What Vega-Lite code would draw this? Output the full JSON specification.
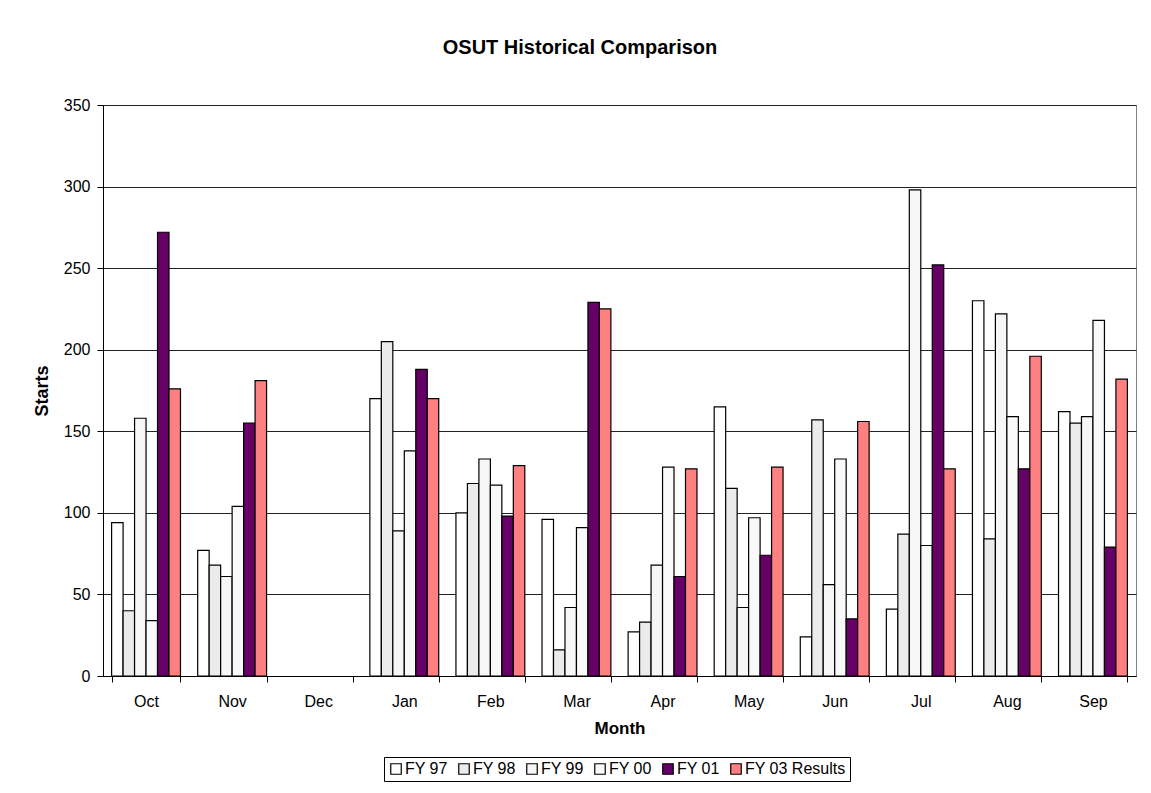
{
  "$schema": "https://vega.github.io/schema/vega-lite/v6.json",
  "width": 1033,
  "height": 571,
  "autosize": {"type": "none"},
  "padding": {"left": 103, "top": 105, "right": 15, "bottom": 117},
  "background": "white",
  "title": {
    "text": "OSUT Historical Comparison",
    "font": "Liberation Sans",
    "fontSize": 20,
    "fontWeight": "bold",
    "color": "black",
    "anchor": "middle",
    "baseline": "alphabetic",
    "dx": -39.5,
    "offset": 23
  },
  "data": {
    "values": [
      {"month": "Oct", "series": "FY 97", "value": 94},
      {"month": "Oct", "series": "FY 98", "value": 40},
      {"month": "Oct", "series": "FY 99", "value": 158},
      {"month": "Oct", "series": "FY 00", "value": 34},
      {"month": "Oct", "series": "FY 01", "value": 272},
      {"month": "Oct", "series": "FY 03 Results", "value": 176},
      {"month": "Nov", "series": "FY 97", "value": 77},
      {"month": "Nov", "series": "FY 98", "value": 68},
      {"month": "Nov", "series": "FY 99", "value": 61},
      {"month": "Nov", "series": "FY 00", "value": 104},
      {"month": "Nov", "series": "FY 01", "value": 155},
      {"month": "Nov", "series": "FY 03 Results", "value": 181},
      {"month": "Jan", "series": "FY 97", "value": 170},
      {"month": "Jan", "series": "FY 98", "value": 205},
      {"month": "Jan", "series": "FY 99", "value": 89},
      {"month": "Jan", "series": "FY 00", "value": 138},
      {"month": "Jan", "series": "FY 01", "value": 188},
      {"month": "Jan", "series": "FY 03 Results", "value": 170},
      {"month": "Feb", "series": "FY 97", "value": 100},
      {"month": "Feb", "series": "FY 98", "value": 118},
      {"month": "Feb", "series": "FY 99", "value": 133},
      {"month": "Feb", "series": "FY 00", "value": 117},
      {"month": "Feb", "series": "FY 01", "value": 98},
      {"month": "Feb", "series": "FY 03 Results", "value": 129},
      {"month": "Mar", "series": "FY 97", "value": 96},
      {"month": "Mar", "series": "FY 98", "value": 16},
      {"month": "Mar", "series": "FY 99", "value": 42},
      {"month": "Mar", "series": "FY 00", "value": 91},
      {"month": "Mar", "series": "FY 01", "value": 229},
      {"month": "Mar", "series": "FY 03 Results", "value": 225},
      {"month": "Apr", "series": "FY 97", "value": 27},
      {"month": "Apr", "series": "FY 98", "value": 33},
      {"month": "Apr", "series": "FY 99", "value": 68},
      {"month": "Apr", "series": "FY 00", "value": 128},
      {"month": "Apr", "series": "FY 01", "value": 61},
      {"month": "Apr", "series": "FY 03 Results", "value": 127},
      {"month": "May", "series": "FY 97", "value": 165},
      {"month": "May", "series": "FY 98", "value": 115},
      {"month": "May", "series": "FY 99", "value": 42},
      {"month": "May", "series": "FY 00", "value": 97},
      {"month": "May", "series": "FY 01", "value": 74},
      {"month": "May", "series": "FY 03 Results", "value": 128},
      {"month": "Jun", "series": "FY 97", "value": 24},
      {"month": "Jun", "series": "FY 98", "value": 157},
      {"month": "Jun", "series": "FY 99", "value": 56},
      {"month": "Jun", "series": "FY 00", "value": 133},
      {"month": "Jun", "series": "FY 01", "value": 35},
      {"month": "Jun", "series": "FY 03 Results", "value": 156},
      {"month": "Jul", "series": "FY 97", "value": 41},
      {"month": "Jul", "series": "FY 98", "value": 87},
      {"month": "Jul", "series": "FY 99", "value": 298},
      {"month": "Jul", "series": "FY 00", "value": 80},
      {"month": "Jul", "series": "FY 01", "value": 252},
      {"month": "Jul", "series": "FY 03 Results", "value": 127},
      {"month": "Aug", "series": "FY 97", "value": 230},
      {"month": "Aug", "series": "FY 98", "value": 84},
      {"month": "Aug", "series": "FY 99", "value": 222},
      {"month": "Aug", "series": "FY 00", "value": 159},
      {"month": "Aug", "series": "FY 01", "value": 127},
      {"month": "Aug", "series": "FY 03 Results", "value": 196},
      {"month": "Sep", "series": "FY 97", "value": 162},
      {"month": "Sep", "series": "FY 98", "value": 155},
      {"month": "Sep", "series": "FY 99", "value": 159},
      {"month": "Sep", "series": "FY 00", "value": 218},
      {"month": "Sep", "series": "FY 01", "value": 79},
      {"month": "Sep", "series": "FY 03 Results", "value": 182}
    ]
  },
  "mark": {"type": "bar", "stroke": "black", "strokeWidth": 1.2},
  "encoding": {
    "x": {
      "field": "month",
      "type": "nominal",
      "scale": {
        "domain": ["Oct", "Nov", "Dec", "Jan", "Feb", "Mar", "Apr", "May", "Jun", "Jul", "Aug", "Sep"],
        "paddingInner": 0.2,
        "paddingOuter": 0.1
      },
      "axis": {
        "title": "Month",
        "labelAngle": 0,
        "tickBand": "extent",
        "tickSize": 6,
        "labelPadding": 11,
        "titlePadding": 11
      }
    },
    "xOffset": {
      "field": "series",
      "type": "nominal",
      "scale": {"domain": ["FY 97", "FY 98", "FY 99", "FY 00", "FY 01", "FY 03 Results"]}
    },
    "y": {
      "field": "value",
      "type": "quantitative",
      "scale": {"domain": [0, 350], "nice": false},
      "axis": {
        "title": "Starts",
        "values": [0, 50, 100, 150, 200, 250, 300, 350],
        "grid": true,
        "tickSize": 6,
        "labelPadding": 7,
        "titlePadding": 12,
        "titleFontSize": 18
      }
    },
    "color": {
      "field": "series",
      "type": "nominal",
      "scale": {
        "domain": ["FY 97", "FY 98", "FY 99", "FY 00", "FY 01", "FY 03 Results"],
        "range": ["#ffffff", "#ebebeb", "#f6f6f6", "#f9f9f9", "#660066", "#ff8080"]
      },
      "legend": {
        "orient": "none",
        "legendX": 281,
        "legendY": 652,
        "direction": "horizontal",
        "title": null,
        "strokeColor": "black",
        "padding": 4,
        "symbolType": "square",
        "symbolSize": 110,
        "symbolStrokeColor": "black",
        "symbolStrokeWidth": 1.2,
        "labelFontSize": 16,
        "labelFont": "Liberation Sans",
        "labelColor": "black",
        "labelOffset": 1,
        "columnPadding": 8
      }
    }
  },
  "config": {
    "view": {"stroke": "#808080"},
    "font": "Liberation Sans",
    "axis": {
      "labelFont": "Liberation Sans",
      "labelFontSize": 16,
      "labelColor": "black",
      "titleFont": "Liberation Sans",
      "titleFontSize": 17,
      "titleFontWeight": "bold",
      "titleColor": "black",
      "domainColor": "black",
      "domainWidth": 1,
      "tickColor": "black",
      "tickWidth": 1,
      "gridColor": "#222222",
      "gridWidth": 1,
      "grid": false
    },
    "axisY": {"grid": true}
  }
}
